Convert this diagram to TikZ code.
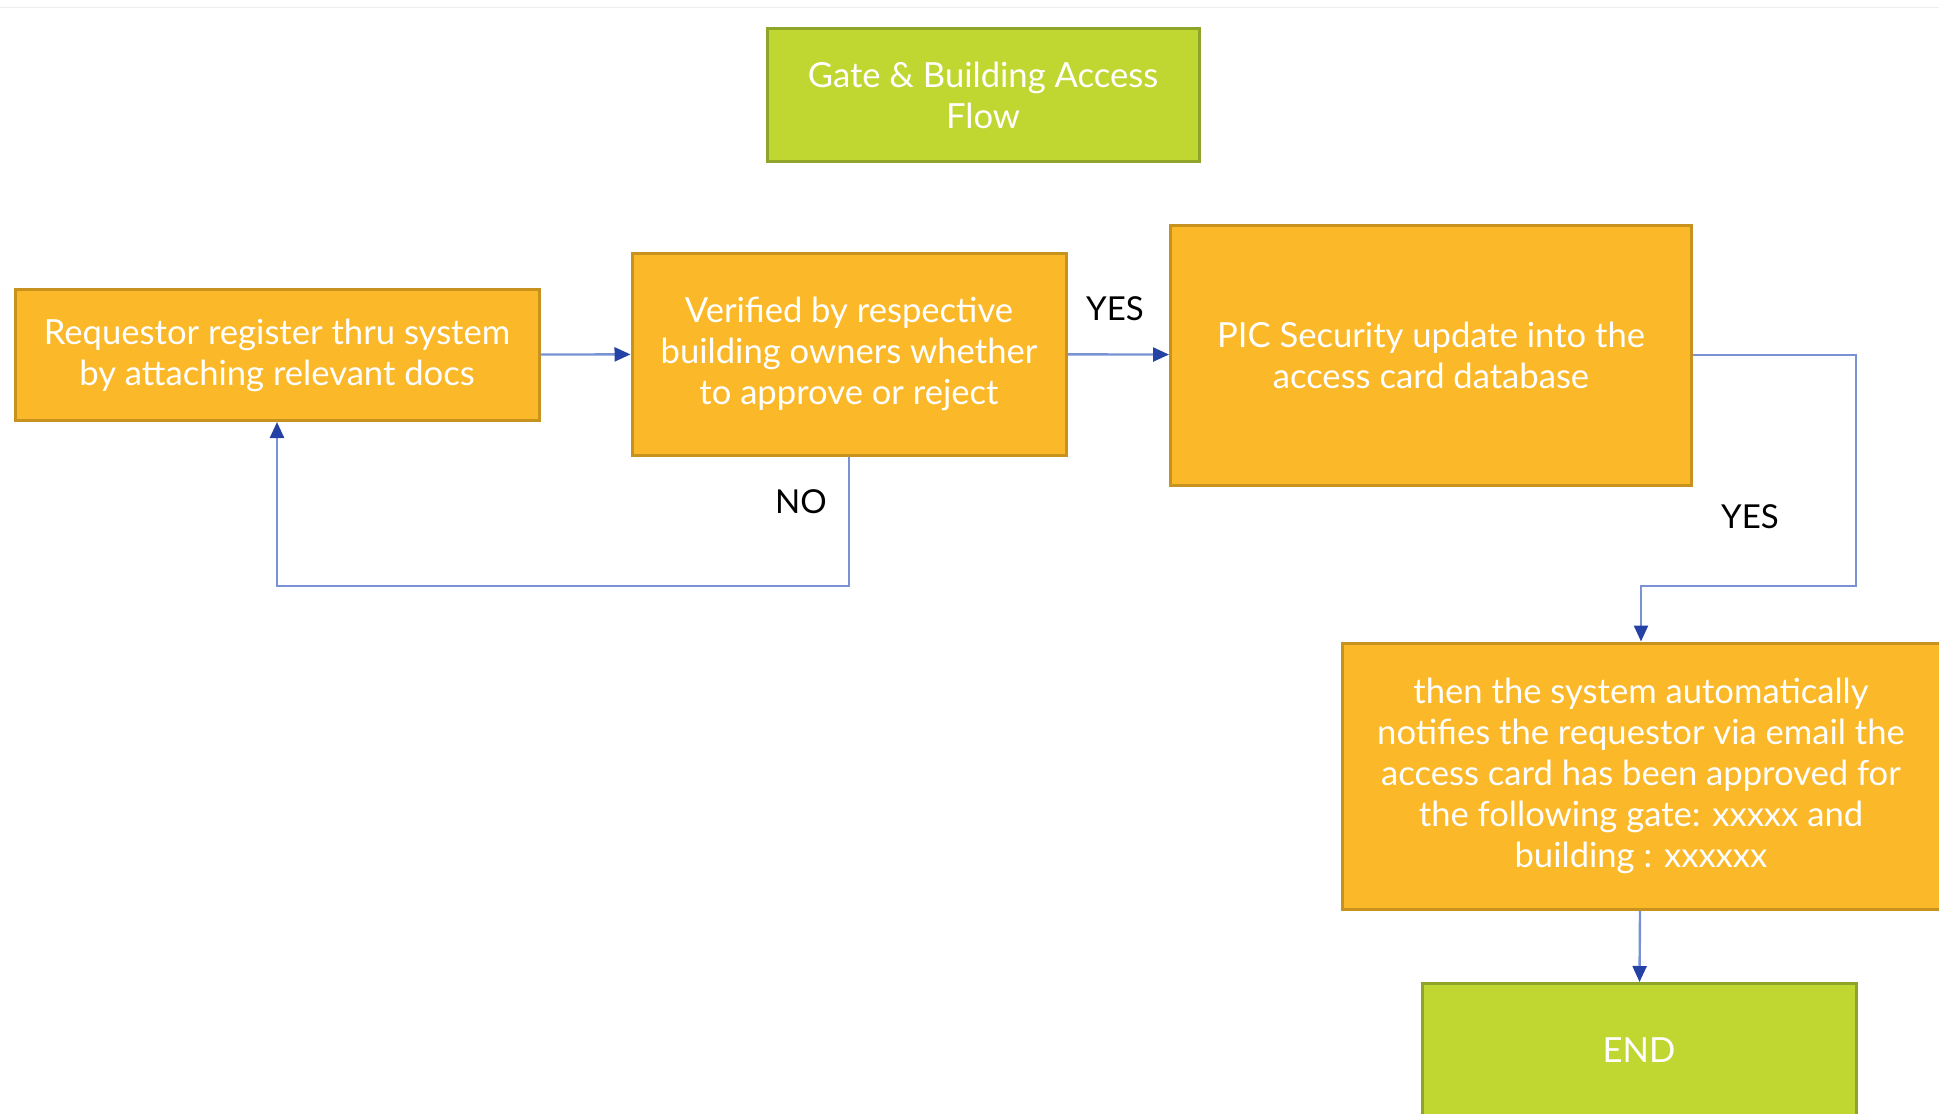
\documentclass[tikz,border=0pt]{standalone}
\usepackage{fontspec}
\setmainfont{Lato}
\usetikzlibrary{arrows.meta}

\definecolor{boxorange}{RGB}{251,184,41}
\definecolor{edgeorange}{RGB}{200,146,30}
\definecolor{boxgreen}{RGB}{192,215,49}
\definecolor{edgegreen}{RGB}{143,165,42}
\definecolor{linkblue}{RGB}{120,146,212}
\definecolor{tipblue}{RGB}{36,66,165}

\tikzset{
  stepbox/.style={draw=edgeorange, fill=boxorange, line width=1.5pt, text=white,
    align=center, inner sep=0pt, font=\fontsize{17.3}{20.5}\selectfont},
  endbox/.style={draw=edgegreen, fill=boxgreen, line width=1.5pt, text=white,
    align=center, inner sep=0pt, font=\fontsize{17.3}{20.5}\selectfont},
  flow/.style={draw=linkblue, line width=1.2pt,
    -{Triangle[color=tipblue, length=8pt, width=7pt]}},
  answer/.style={inner sep=0pt, font=\fontsize{16.5}{19}\selectfont}
}

\begin{document}
\begin{tikzpicture}[x=0.5pt,y=0.5pt,yscale=-1,xscale=1]
\useasboundingbox (0,0) rectangle (1939,1114);

%Faint slide edge
\draw [color={rgb, 255:red, 238; green, 238; blue, 238 }, line width=0.5pt] (0,7) -- (1939,7) ;

% Boxes
\node [endbox, minimum width=216pt, minimum height=66.5pt] (title) at (983,95) {Gate \& Building Access\\Flow};
\node [stepbox, minimum width=262pt, minimum height=65.5pt] (register) at (277,355) {Requestor register thru system\\by attaching relevant docs};
\node [stepbox, minimum width=217pt, minimum height=101pt] (verify) at (849,354) {Verified by respective\\building owners whether\\to approve or reject};
\node [stepbox, minimum width=260.5pt, minimum height=130pt] (update) at (1431,355) {PIC Security update into the\\access card database};
\node [stepbox, minimum width=299pt, minimum height=133pt] (notify) at (1641,776) {then the system automatically\\notifies the requestor via email the\\access card has been approved for\\the following gate: xxxxx and\\building : xxxxxx};
\node [endbox, minimum width=217pt, minimum height=66.5pt] (finish) at (1639,1050) {END};

% Bends
\coordinate (loopback) at (277,586);
\coordinate (yesturn) at (1856,586);

% Connectors
\draw [flow] (register) -- (verify);
\draw [flow] (verify) -- (update);
\draw [flow] (verify.south) |- (loopback) -- (register.south);
\draw [flow] (update.east) -| (yesturn) -| (notify.north);
\draw [flow] (notify) -- (finish);

% Text Node
\node [answer] (yesA) at (1115,309) {YES};
\node [answer] (noA) at (801,502) {NO};
\node [answer] (yesB) at (1750,517) {YES};

\end{tikzpicture}
\end{document}
